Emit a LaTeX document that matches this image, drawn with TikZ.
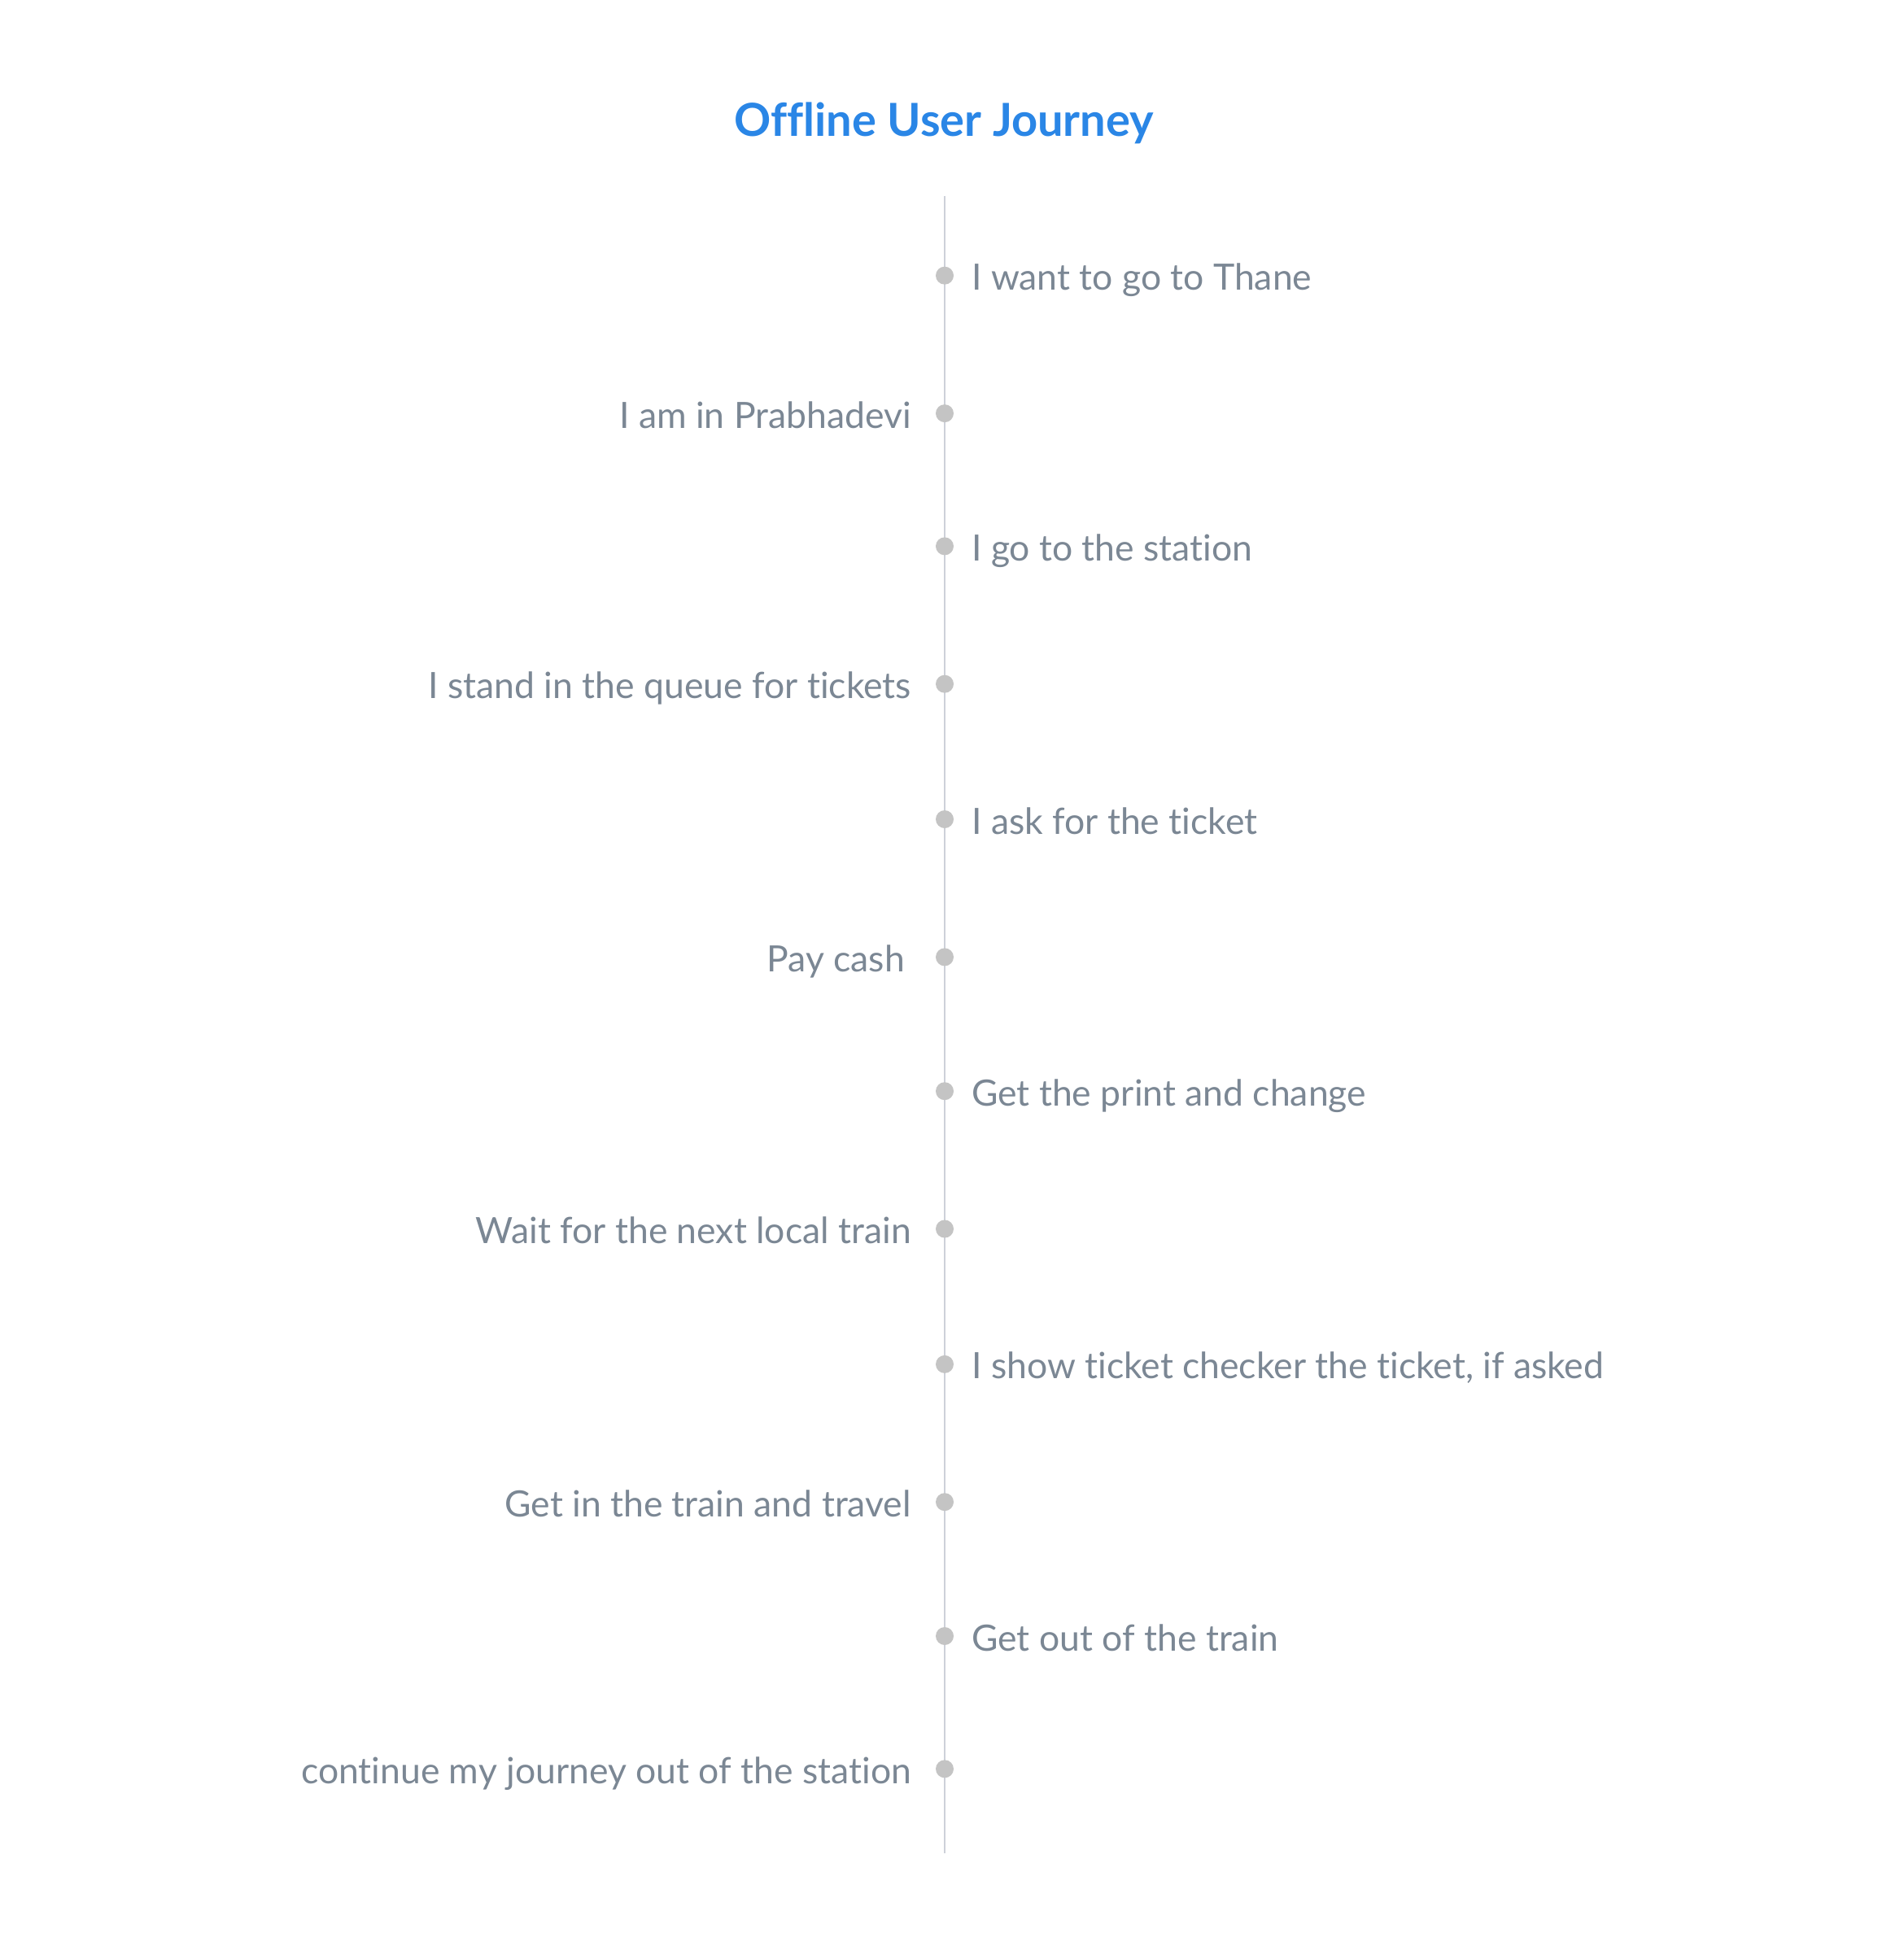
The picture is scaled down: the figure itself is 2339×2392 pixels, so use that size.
\documentclass[tikz,border=0pt]{standalone}
\usepackage{fontspec}
\setmainfont{Lato}[Ligatures={NoCommon}]
\definecolor{titleblue}{HTML}{2A86E6}
\definecolor{stepgray}{HTML}{7B8794}
\definecolor{linegray}{HTML}{CDD1D9}
\definecolor{dotgray}{HTML}{C4C4C4}
\tikzset{
  titlestyle/.style={inner sep=0pt, anchor=base, text=titleblue, font=\fontsize{56}{64}\selectfont\bfseries},
  rightlabel/.style={inner sep=0pt, anchor=base west, text=stepgray, font=\fontsize{44.5}{52}\selectfont},
  leftlabel/.style={inner sep=0pt, anchor=base east, text=stepgray, font=\fontsize{44.5}{52}\selectfont},
  stepdot/.style={circle, fill=dotgray, inner sep=0pt, minimum size=22pt},
  spine/.style={draw=linegray, line width=2.5pt}
}
\begin{document}
\begin{tikzpicture}[x=1pt,y=-1pt]
\useasboundingbox (0,0) rectangle (2339,2392);
\fill[white] (0,0) rectangle (2339,2392);
\node[titlestyle] (title) at (1160,167.5) {Offline User Journey};
\coordinate (top) at (1161,241);
\coordinate (bottom) at (1161,2278);
\draw[spine] (top) -- (bottom);
\foreach \n/\y in {1/338.7,2/508.1,3/671.4,4/840.7,5/1007.0,6/1176.4,7/1341.2,8/1510.5,9/1676.9,10/1846.2,11/2011.0,12/2174.3}{
  \node[stepdot] (d\n) at (1161,\y) {};
}
\node[rightlabel] (t1) at (1194,338.7+18) {I want to go to Thane};
\node[leftlabel] (t2) at (1120,508.1+18) {I am in Prabhadevi};
\node[rightlabel] (t3) at (1194,671.4+18) {I go to the station};
\node[leftlabel] (t4) at (1120,840.7+18) {I stand in the queue for tickets};
\node[rightlabel] (t5) at (1194,1007.0+18) {I ask for the ticket};
\node[leftlabel] (t6) at (1120,1176.4+18) {Pay cash\kern8pt};
\node[rightlabel] (t7) at (1194,1341.2+18) {Get the print and change};
\node[leftlabel] (t8) at (1120,1510.5+18) {Wait for the next local train};
\node[rightlabel] (t9) at (1194,1676.9+18) {I show ticket checker the ticket, if asked};
\node[leftlabel] (t10) at (1120,1846.2+18) {Get in the train and travel};
\node[rightlabel] (t11) at (1194,2011.0+18) {Get out of the train};
\node[leftlabel] (t12) at (1120,2174.3+18) {continue my journey out of the station};
\end{tikzpicture}
\end{document}
